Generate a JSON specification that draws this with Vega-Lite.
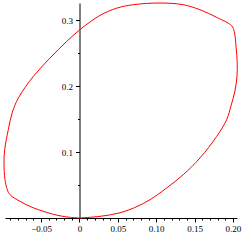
{
  "$schema": "https://vega.github.io/schema/vega-lite/v6.json",
  "width": 232,
  "height": 215,
  "autosize": "none",
  "padding": {"left": 5, "top": 3, "right": 8, "bottom": 27},
  "config": {
    "view": {"stroke": null},
    "axis": {"grid": false, "labelFont": "Liberation Serif", "labelFontSize": 9, "labelColor": "#000", "domainColor": "#000", "tickColor": "#000", "domainWidth": 1, "tickWidth": 1}
  },
  "data": {
    "values": [
      {"i": 1, "x": 0, "y": 0},
      {"i": 2, "x": 0.0267, "y": 0.0025},
      {"i": 3, "x": 0.0515, "y": 0.0075},
      {"i": 4, "x": 0.072, "y": 0.0158},
      {"i": 5, "x": 0.0919, "y": 0.0277},
      {"i": 6, "x": 0.1136, "y": 0.0455},
      {"i": 7, "x": 0.1352, "y": 0.0656},
      {"i": 8, "x": 0.157, "y": 0.0909},
      {"i": 9, "x": 0.1788, "y": 0.1236},
      {"i": 10, "x": 0.1918, "y": 0.1489},
      {"i": 11, "x": 0.1975, "y": 0.17},
      {"i": 12, "x": 0.2025, "y": 0.192},
      {"i": 13, "x": 0.2053, "y": 0.215},
      {"i": 14, "x": 0.2056, "y": 0.235},
      {"i": 15, "x": 0.2042, "y": 0.258},
      {"i": 16, "x": 0.2017, "y": 0.2827},
      {"i": 17, "x": 0.1983, "y": 0.2914},
      {"i": 18, "x": 0.1788, "y": 0.304},
      {"i": 19, "x": 0.157, "y": 0.3156},
      {"i": 20, "x": 0.1352, "y": 0.3232},
      {"i": 21, "x": 0.1049, "y": 0.3258},
      {"i": 22, "x": 0.0701, "y": 0.3232},
      {"i": 23, "x": 0.0485, "y": 0.318},
      {"i": 24, "x": 0.0267, "y": 0.307},
      {"i": 25, "x": 0.0016, "y": 0.2864},
      {"i": 26, "x": -0.0167, "y": 0.2676},
      {"i": 27, "x": -0.0384, "y": 0.2424},
      {"i": 28, "x": -0.0602, "y": 0.2145},
      {"i": 29, "x": -0.0797, "y": 0.1818},
      {"i": 30, "x": -0.0876, "y": 0.16},
      {"i": 31, "x": -0.0928, "y": 0.1338},
      {"i": 32, "x": -0.0975, "y": 0.1035},
      {"i": 33, "x": -0.0984, "y": 0.0838},
      {"i": 34, "x": -0.0971, "y": 0.058},
      {"i": 35, "x": -0.0941, "y": 0.0429},
      {"i": 36, "x": -0.0906, "y": 0.0353},
      {"i": 37, "x": -0.0775, "y": 0.0252},
      {"i": 38, "x": -0.0606, "y": 0.0156},
      {"i": 39, "x": -0.0427, "y": 0.0085},
      {"i": 40, "x": -0.028, "y": 0.0039},
      {"i": 41, "x": -0.012, "y": 0.001},
      {"i": 42, "x": 0, "y": 0}
    ]
  },
  "layer": [
    {
      "mark": {"type": "line", "color": "#ff0000", "strokeWidth": 1, "clip": false, "interpolate": "catmull-rom"},
      "encoding": {
        "x": {"field": "x", "type": "quantitative", "scale": {"domain": [-0.0971, 0.2053], "nice": false, "zero": false},
          "axis": {"orient": "bottom", "title": null, "values": [-0.05, 0, 0.05, 0.1, 0.15, 0.2], "tickSize": 4, "labelPadding": 2,
            "labelExpr": "datum.value == 0 ? '0' : format(datum.value, '.2f')"}},
        "y": {"field": "y", "type": "quantitative", "scale": {"domain": [0, 0.3258], "nice": false, "zero": false},
          "axis": {"orient": "left", "title": null, "offset": -74.5, "values": [0.1, 0.2, 0.3], "tickSize": 4, "labelPadding": 3,
            "labelExpr": "format(datum.value, '.1f')"}},
        "order": {"field": "i", "type": "quantitative"}
      }
    },
    {
      "mark": {"type": "line", "opacity": 0},
      "encoding": {
        "x": {"field": "x", "type": "quantitative",
          "axis": {"orient": "bottom", "title": null, "domain": false, "labels": false, "tickSize": 2,
            "values": [-0.09, -0.08, -0.07, -0.06, -0.04, -0.03, -0.02, -0.01, 0.01, 0.02, 0.03, 0.04, 0.06, 0.07, 0.08, 0.09, 0.11, 0.12, 0.13, 0.14, 0.16, 0.17, 0.18, 0.19]}},
        "y": {"field": "y", "type": "quantitative",
          "axis": {"orient": "left", "title": null, "offset": -74.5, "domain": false, "labels": false, "tickSize": 2, "values": [0.05, 0.15, 0.25]}},
        "order": {"field": "i", "type": "quantitative"}
      }
    }
  ],
  "resolve": {"axis": {"x": "independent", "y": "independent"}}
}
